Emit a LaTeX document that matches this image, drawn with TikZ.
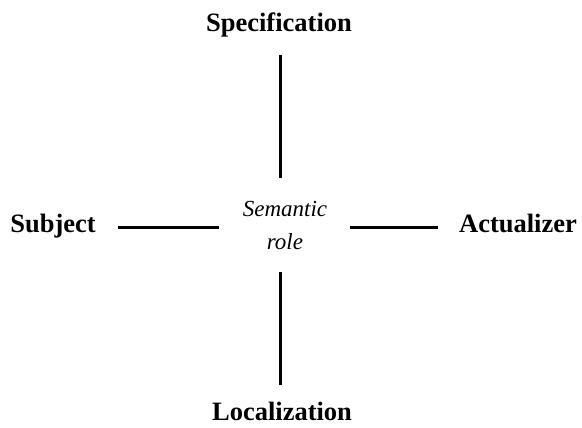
\documentclass[tikz,border=0pt]{standalone}
\usepackage{fontspec}
\setmainfont{Liberation Serif}
\begin{document}
\begin{tikzpicture}[x=1pt,y=-1pt,
  lbl/.style={font=\fontsize{26.5}{30}\selectfont\bfseries, inner sep=0pt, anchor=base},
  role/.style={font=\fontsize{23}{26}\selectfont\itshape, inner sep=0pt, anchor=base},
  core/.style={minimum width=131pt, minimum height=94pt, inner sep=0pt},
  link/.style={line width=3pt}]
\useasboundingbox (0,0) rectangle (582,428);
\node[core] (c) at (284.5,225) {};
\node[role] (s1) at (285,216) {Semantic};
\node[role] (s2) at (285,249) {role};
\node[lbl] (spec) at (279,32) {Specification};
\node[lbl] (subj) at (53,233) {Subject};
\node[lbl] (act) at (518,233) {Actualizer};
\node[lbl] (loc) at (282,420) {Localization};
\coordinate (t) at (280,55);
\coordinate (b) at (280,385);
\coordinate (l) at (118,227);
\coordinate (r) at (438,227);
\draw[link] (c.north -| t) -- (t);
\draw[link] (c.south -| b) -- (b);
\draw[link] (c.west |- l) -- (l);
\draw[link] (c.east |- r) -- (r);
\end{tikzpicture}
\end{document}
